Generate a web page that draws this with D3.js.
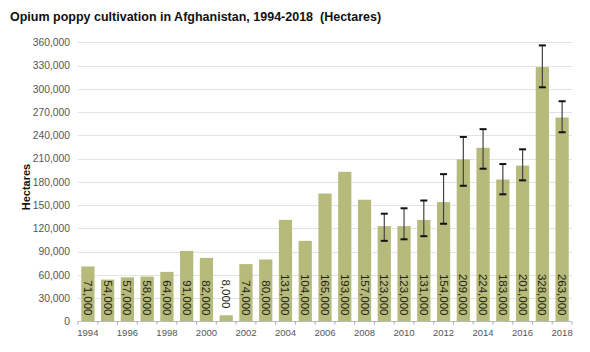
<!DOCTYPE html>
<html><head><meta charset="utf-8">
<script src="https://cdn.jsdelivr.net/npm/d3@7"></script>
<style>body{margin:0;background:#fff;}svg{display:block;font-family:"Liberation Sans",Arial,sans-serif;}</style>
</head><body>
<svg id="c" width="590" height="352"></svg>
<script>
const years = [1994,1995,1996,1997,1998,1999,2000,2001,2002,2003,2004,2005,2006,2007,2008,2009,2010,2011,2012,2013,2014,2015,2016,2017,2018];
const hectares = [71000,54000,57000,58000,64000,91000,82000,8000,74000,80000,131000,104000,165000,193000,157000,123000,123000,131000,154000,209000,224000,183000,201000,328000,263000];
const lowBound = [null,null,null,null,null,null,null,null,null,null,null,null,null,null,null,104000,106000,110000,126000,175000,197000,164000,182000,302000,244000];
const highBound = [null,null,null,null,null,null,null,null,null,null,null,null,null,null,null,139000,146000,156000,190000,238000,248000,203000,222000,356000,284000];
const yTicks = [0,30000,60000,90000,120000,150000,180000,210000,240000,270000,300000,330000,360000];
const xTickYears = [1994,1996,1998,2000,2002,2004,2006,2008,2010,2012,2014,2016,2018];

const svg = d3.select("#c");
const x = d3.scaleBand().domain(years).range([78,572]).paddingInner(0.33).paddingOuter(0.165);
const y = d3.scaleLinear().domain([0,360000]).range([321.5,42.3]);
const fmt = d3.format(",");

svg.append("text").attr("x",10).attr("y",21).attr("font-size",12.5).attr("font-weight","bold").attr("fill","#111")
  .attr("xml:space","preserve").text("Opium poppy cultivation in Afghanistan, 1994-2018  (Hectares)");

// gridlines
svg.append("g").selectAll("line").data(yTicks.slice(1)).join("line")
  .attr("x1",78).attr("x2",572).attr("y1",d=>Math.round(y(d))+0.5).attr("y2",d=>Math.round(y(d))+0.5)
  .attr("stroke","#e3e3e3").attr("stroke-width",1);

// y axis labels
const ya = svg.append("g").attr("transform","translate(78,0)")
  .call(d3.axisLeft(y).tickValues(yTicks).tickFormat(fmt).tickSize(0).tickPadding(8));
ya.select(".domain").remove();
ya.selectAll("text").attr("font-size",10.3).attr("fill","#555").attr("font-family","Liberation Sans, Arial, sans-serif");

svg.append("text").attr("transform","translate(30,187) rotate(-90)").attr("text-anchor","middle")
  .attr("font-size",11).attr("font-weight","bold").attr("fill","#111").text("Hectares");

// bars
svg.append("g").selectAll("rect").data(years).join("rect")
  .attr("x",d=>x(d)).attr("width",x.bandwidth())
  .attr("y",(d,i)=>y(hectares[i])).attr("height",(d,i)=>y(0)-y(hectares[i]))
  .attr("fill","#b6ba7b");

// x axis
const xa = svg.append("g").attr("transform",`translate(0,${y(0)})`);
xa.append("line").attr("x1",78).attr("x2",572).attr("stroke","#bbb");
const bounds = years.map(d=>x(d)-x.step()*x.paddingInner()/2).concat([572]);
xa.selectAll("line.t").data(bounds).join("line").attr("class","t")
  .attr("x1",d=>d).attr("x2",d=>d).attr("y1",0).attr("y2",3).attr("stroke","#aaa");
xa.selectAll("text").data(xTickYears).join("text")
  .attr("x",d=>x(d)+x.bandwidth()/2).attr("y",14).attr("text-anchor","middle")
  .attr("font-size",9.5).attr("fill","#555").text(d=>d);

// value labels
svg.append("g").selectAll("text").data(years).join("text")
  .attr("transform",(d,i)=>{
    const cx = x(d)+x.bandwidth()/2 - 4;
    const yEnd = (y(0)-y(hectares[i]) < 40) ? y(hectares[i]) - 7 : y(0) - 6;
    return `translate(${cx},${yEnd}) rotate(90)`;
  })
  .attr("text-anchor","end").attr("font-size",11.5).attr("fill","#1e1e12").text((d,i)=>fmt(hectares[i]));

// error bars
const eb = svg.append("g");
years.forEach((d,i)=>{
  if(lowBound[i]==null) return;
  const cx = x(d)+x.bandwidth()/2;
  eb.append("line").attr("x1",cx).attr("x2",cx).attr("y1",y(highBound[i])).attr("y2",y(lowBound[i])).attr("stroke","#444").attr("stroke-width",1.2);
  [highBound[i],lowBound[i]].forEach(v=>{
    eb.append("line").attr("x1",cx-3.5).attr("x2",cx+3.5).attr("y1",y(v)).attr("y2",y(v)).attr("stroke","#111").attr("stroke-width",2);
  });
});
</script>
</body></html>
